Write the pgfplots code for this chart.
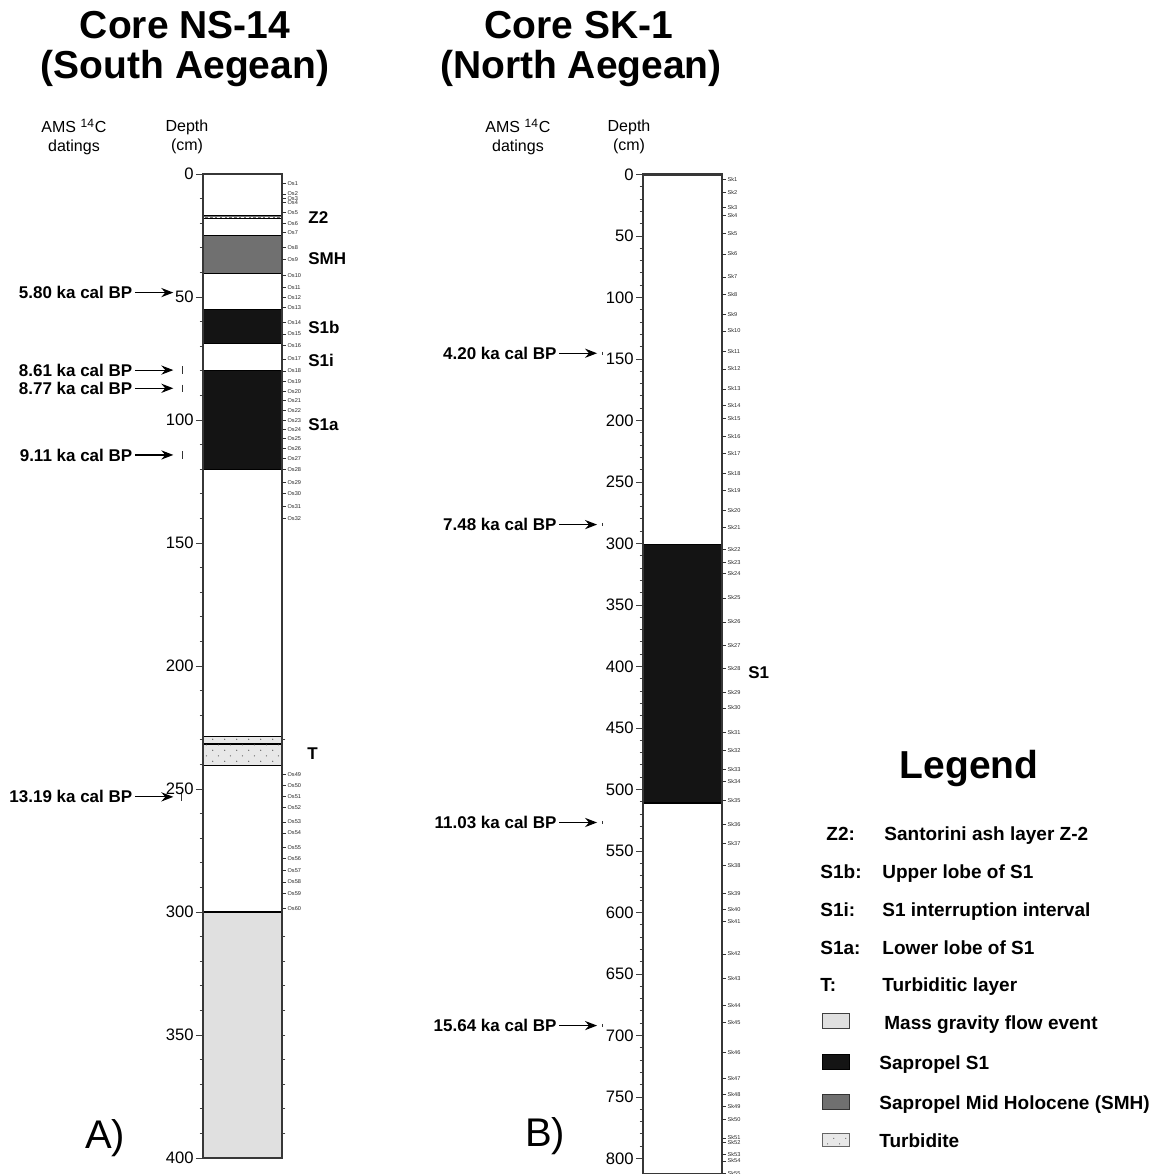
\documentclass[border=0pt]{standalone}
\usepackage{fontspec}
\setmainfont{Liberation Sans}
\usepackage{pgfplots}
\pgfplotsset{compat=1.18}
\usetikzlibrary{arrows.meta,patterns.meta}

\definecolor{sapS1}{RGB}{20,20,20}
\definecolor{smh}{RGB}{112,112,112}
\definecolor{mgf}{RGB}{224,224,224}
\definecolor{turb}{RGB}{232,232,232}
\definecolor{frame}{RGB}{55,55,55}

\tikzdeclarepattern{
  name=turbdots,
  type=colored,
  bottom left={(0pt,0pt)},
  top right={(5.85pt,5.7pt)},
  tile size={(5.85pt,5.7pt)},
  code={
    \fill[black!70] (1.4pt,1.4pt) circle[radius=0.3pt];
    \fill[black!70] (4.3pt,4.25pt) circle[radius=0.3pt];
  }
}

\newcommand{\datefont}{\bfseries\fontsize{8.5}{10}\selectfont}
\newcommand{\tinyfont}{\fontsize{2.8}{3}\selectfont}

\pgfplotsset{
  core/.style={
    scale only axis, width=39.5pt, xmin=0, xmax=1, y dir=reverse,
    xtick=\empty, anchor=north west, clip=false, axis on top,
    axis line style={draw=frame, line width=1.1pt},
    tick pos=left, tick align=outside,
    major tick length=3.5pt, minor tick length=1.7pt,
    every tick/.style={black!75, line width=0.45pt},
    minor y tick num=4,
    /pgf/number format/assume math mode=true,
    yticklabel style={font=\fontsize{8.3}{9}\selectfont, inner sep=1pt},
  },
  samples/.style={
    scale only axis, width=39.5pt, xmin=0, xmax=1, y dir=reverse,
    anchor=north west, axis x line=none, axis y line*=right,
    y axis line style={draw=none},
    tick align=outside, major tick length=2pt, minor tick num=0,
    every tick/.style={black!80, line width=0.35pt},
    yticklabel style={font=\tinyfont, text=black!85, inner sep=0.6pt},
  },
  layer/.style={draw=black, line width=0.6pt},
  datearrow/.style={black, line width=0.55pt, -{Stealth[length=6pt,width=4.6pt,inset=2pt]}},
  datemark/.style={black!80, line width=0.4pt},
}

\begin{document}
\begin{tikzpicture}
\useasboundingbox (0pt,0pt) rectangle (575.5pt,-587pt);

% ---------------- Core NS-14 ----------------
\begin{axis}[core, at={(101.5pt,-87pt)}, height=492pt, ymin=0, ymax=400,
  ytick={0,50,...,400}]
  % Mass gravity flow event
  \addplot[layer, fill=mgf] coordinates {(0,300) (1,300) (1,400) (0,400) (0,300)};
  % Turbidite T
  \addplot[layer, fill=turb] coordinates {(0,228.5) (1,228.5) (1,231.7) (0,231.7) (0,228.5)};
  \addplot[layer, fill=turb] coordinates {(0,231.7) (1,231.7) (1,240.5) (0,240.5) (0,231.7)};
  \addplot[draw=none, pattern=turbdots] coordinates {(0,228.5) (1,228.5) (1,240.5) (0,240.5) (0,228.5)};
  % Sapropel S1a, S1b
  \addplot[layer, fill=sapS1] coordinates {(0,80) (1,80) (1,120) (0,120) (0,80)};
  \addplot[layer, fill=sapS1] coordinates {(0,55) (1,55) (1,69) (0,69) (0,55)};
  % SMH
  \addplot[layer, fill=smh] coordinates {(0,25) (1,25) (1,40.5) (0,40.5) (0,25)};
  % Z2 ash
  \addplot[layer, fill=black!55] coordinates {(0,16.8) (1,16.8) (1,18.2) (0,18.2) (0,16.8)};
  \addplot[white, line width=0.45pt, dash pattern=on 1.2pt off 1.2pt] coordinates {(0,17.5) (1,17.5)};
  % datings
  \addplot[datearrow] coordinates {(-0.861,48.2) (-0.376,48.2)};
  \node[anchor=east, inner sep=0, font=\datefont] at (axis cs:-0.89,48.2) {5.80 ka cal BP};
  \addplot[datearrow] coordinates {(-0.861,79.7) (-0.376,79.7)};
  \addplot[datemark] coordinates {(-0.257,78.2) (-0.257,81.2)};
  \node[anchor=east, inner sep=0, font=\datefont] at (axis cs:-0.89,79.7) {8.61 ka cal BP};
  \addplot[datearrow] coordinates {(-0.861,87.1) (-0.376,87.1)};
  \addplot[datemark] coordinates {(-0.257,85.6) (-0.257,88.6)};
  \node[anchor=east, inner sep=0, font=\datefont] at (axis cs:-0.89,87.1) {8.77 ka cal BP};
  \addplot[datearrow] coordinates {(-0.861,114.2) (-0.376,114.2)};
  \addplot[datemark] coordinates {(-0.257,112.7) (-0.257,115.7)};
  \node[anchor=east, inner sep=0, font=\datefont] at (axis cs:-0.89,114.2) {9.11 ka cal BP};
  \addplot[datearrow] coordinates {(-0.861,253.2) (-0.376,253.2)};
  \addplot[datemark] coordinates {(-0.27,251.2) (-0.27,254.7)};
  \node[anchor=east, inner sep=0, font=\datefont] at (axis cs:-0.89,253.2) {13.19 ka cal BP};
\end{axis}

\begin{axis}[samples, at={(101.5pt,-87pt)}, height=492pt, ymin=0, ymax=400,
  ytick={3.8,8.1,9.8,11.5,15.7,20.0,23.7,29.9,34.6,41.3,46.2,50.1,54.1,60.4,65.0,69.6,75.2,80.1,84.3,88.3,92.1,96.2,100.1,103.8,107.6,111.7,115.6,120.2,125.5,129.9,135.1,140.0,244.0,248.5,253.0,257.4,263.4,267.9,273.9,278.2,283.1,287.8,292.6,298.7},
  yticklabels={Os1,Os2,Os3,Os4,Os5,Os6,Os7,Os8,Os9,Os10,Os11,Os12,Os13,Os14,Os15,Os16,Os17,Os18,Os19,Os20,Os21,Os22,Os23,Os24,Os25,Os26,Os27,Os28,Os29,Os30,Os31,Os32,Os49,Os50,Os51,Os52,Os53,Os54,Os55,Os56,Os57,Os58,Os59,Os60},
  extra y ticks={230,310,320,330,340,350,360,370,380,390},
  extra y tick labels={},
  extra y tick style={major tick length=1.7pt, every tick/.style={black!75, line width=0.45pt}}]
  \addplot[draw=none] coordinates {(0,0)};
\end{axis}

% ---------------- Core SK-1 ----------------
\begin{axis}[core, at={(321.5pt,-87.25pt)}, height=500pt, ymin=0, ymax=813,
  ytick={0,50,...,800}]
  \addplot[layer, fill=sapS1] coordinates {(0,301) (1,301) (1,511) (0,511) (0,301)};
  \addplot[datearrow] coordinates {(-1.063,145.3) (-0.582,145.3)};
  \addplot[datemark] coordinates {(-0.519,143.9) (-0.519,146.7)};
  \node[anchor=east, inner sep=0, font=\datefont] at (axis cs:-1.089,145.3) {4.20 ka cal BP};
  \addplot[datearrow] coordinates {(-1.063,284.6) (-0.582,284.6)};
  \addplot[datemark] coordinates {(-0.519,283.2) (-0.519,286.0)};
  \node[anchor=east, inner sep=0, font=\datefont] at (axis cs:-1.089,284.6) {7.48 ka cal BP};
  \addplot[datearrow] coordinates {(-1.063,526.8) (-0.582,526.8)};
  \addplot[datemark] coordinates {(-0.519,525.4) (-0.519,528.2)};
  \node[anchor=east, inner sep=0, font=\datefont] at (axis cs:-1.089,526.8) {11.03 ka cal BP};
  \addplot[datearrow] coordinates {(-1.063,691.9) (-0.582,691.9)};
  \addplot[datemark] coordinates {(-0.519,690.5) (-0.519,693.3)};
  \node[anchor=east, inner sep=0, font=\datefont] at (axis cs:-1.089,691.9) {15.64 ka cal BP};
\end{axis}

\begin{axis}[samples, at={(321.5pt,-87.25pt)}, height=500pt, ymin=0, ymax=813,
  ytick={4.1,14.9,26.6,33.1,47.7,64.5,83.2,97.3,113.8,127.1,143.9,158.0,174.3,187.5,198.4,213.0,226.6,243.3,256.9,272.9,287.0,305.1,315.7,324.1,344.2,363.7,382.7,401.4,420.9,433.6,453.4,468.3,484.0,493.5,509.0,528.2,543.9,562.0,584.8,597.3,607.0,633.6,653.7,675.3,689.4,713.5,734.7,748.2,757.7,768.3,783.2,787.2,796.5,801.9,812.4},
  yticklabels={Sk1,Sk2,Sk3,Sk4,Sk5,Sk6,Sk7,Sk8,Sk9,Sk10,Sk11,Sk12,Sk13,Sk14,Sk15,Sk16,Sk17,Sk18,Sk19,Sk20,Sk21,Sk22,Sk23,Sk24,Sk25,Sk26,Sk27,Sk28,Sk29,Sk30,Sk31,Sk32,Sk33,Sk34,Sk35,Sk36,Sk37,Sk38,Sk39,Sk40,Sk41,Sk42,Sk43,Sk44,Sk45,Sk46,Sk47,Sk48,Sk49,Sk50,Sk51,Sk52,Sk53,Sk54,Sk55}]
  \addplot[draw=none] coordinates {(0,0)};
\end{axis}

% ---------------- Text and legend ----------------
\begin{scope}[x=0.5pt, y=-0.5pt]
  \tikzset{title/.style={font=\bfseries\fontsize{19.5}{23}\selectfont, inner sep=0},
           head/.style={font=\fontsize{8}{9.5}\selectfont, align=center, inner sep=0},
           lay/.style={font=\bfseries\fontsize{8.5}{10}\selectfont, anchor=base west, inner sep=0},
           leg/.style={font=\bfseries\fontsize{9.5}{11}\selectfont, anchor=base west, inner sep=0}}
  \node[title] at (185,25) {Core NS-14};
  \node[title] at (185,68) {(South Aegean)};
  \node[title] at (579,25) {Core SK-1};
  \node[title] at (581,68) {(North Aegean)};

  \node[head] at (74,137) {AMS \textsuperscript{14}C\\datings};
  \node[head] at (187,137) {Depth\\(cm)};
  \node[head] at (518,137) {AMS \textsuperscript{14}C\\datings};
  \node[head] at (629,137) {Depth\\(cm)};

  \node[lay] at (308,223) {Z2};
  \node[lay] at (308,264) {SMH};
  \node[lay] at (308,333) {S1b};
  \node[lay] at (308,366) {S1i};
  \node[lay] at (308,430) {S1a};
  \node[lay] at (307,759) {T};
  \node[lay] at (748,678) {S1};

  \node[font=\fontsize{20}{24}\selectfont, inner sep=0] at (105,1138) {A)};
  \node[font=\fontsize{20}{24}\selectfont, inner sep=0] at (545,1136) {B)};

  \node[title] at (969,768) {Legend};
  \node[leg] at (826,840) {Z2:};
  \node[leg] at (884,840) {Santorini ash layer Z-2};
  \node[leg] at (820,878) {S1b:};
  \node[leg] at (882,878) {Upper lobe of S1};
  \node[leg] at (820,916) {S1i:};
  \node[leg] at (882,916) {S1 interruption interval};
  \node[leg] at (820,954) {S1a:};
  \node[leg] at (882,954) {Lower lobe of S1};
  \node[leg] at (820,991) {T:};
  \node[leg] at (882,991) {Turbiditic layer};
  \draw[fill=mgf, draw=black!75, line width=0.5pt] (822,1013) rectangle (849,1028);
  \node[leg] at (884,1029) {Mass gravity flow event};
  \draw[fill=sapS1, draw=black, line width=0.5pt] (822,1054) rectangle (849,1069);
  \node[leg] at (879,1069) {Sapropel S1};
  \draw[fill=smh, draw=black!80, line width=0.5pt] (822,1094) rectangle (849,1109);
  \node[leg] at (879,1109) {Sapropel Mid Holocene (SMH)};
  \draw[fill=turb, draw=black!60, line width=0.4pt] (822,1133) rectangle (849,1146);
  \fill[pattern=turbdots] (822,1133) rectangle (849,1146);
  \node[leg] at (879,1147) {Turbidite};
\end{scope}
\end{tikzpicture}
\end{document}
